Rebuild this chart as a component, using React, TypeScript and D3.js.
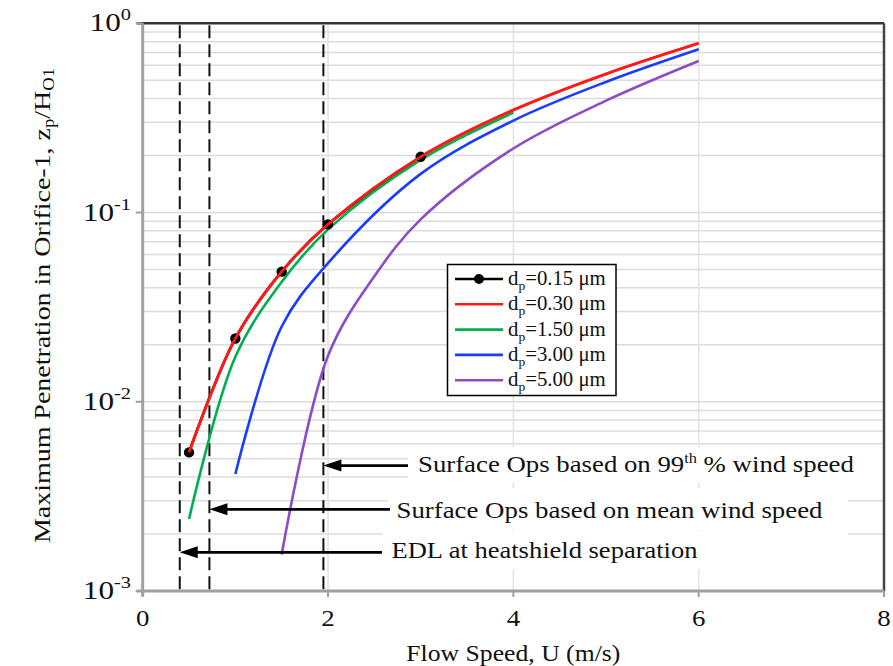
import React from "react";
import * as d3 from "d3";

const W = 893, H = 666;
const L = 142.7, R = 884, T = 23.3, B = 591;

const xTicks = [0, 2, 4, 6, 8];
const yDecades = [-3, -2, -1, 0];

const seriesNames = ["0.15", "0.30", "1.50", "3.00", "5.00"];
const seriesColors = ["#000000", "#ff1a1a", "#00b050", "#1a3cff", "#8e4cc4"];

const x015 = [0.5, 1, 1.5, 2, 3];
const y015 = [0.0054, 0.0216, 0.0487, 0.0866, 0.197];
const x030 = [0.5, 1, 1.5, 2, 3, 4, 5, 6];
const y030 = [0.0054, 0.0216, 0.0487, 0.0866, 0.197, 0.348, 0.54, 0.784];
const x150 = [0.5, 1, 1.5, 2, 3, 4];
const y150 = [0.0024, 0.0173, 0.043, 0.0815, 0.19, 0.337];
const x300 = [1, 1.5, 2, 3, 4, 5, 6];
const y300 = [0.00415, 0.025, 0.054, 0.16, 0.306, 0.49, 0.729];
const x500 = [1.5, 2, 2.5, 3, 4, 5, 6];
const y500 = [0.00156, 0.0175, 0.046, 0.092, 0.218, 0.39, 0.632];

const dashedX = [0.4, 0.72, 1.95];
const arrowLabels = [
  "EDL at heatshield separation",
  "Surface Ops based on mean wind speed",
  "Surface Ops based on 99",
];

function SText({ x, y, sx, children, ...rest }: any) {
  return (
    <g transform={`translate(${x},${y}) scale(${sx},1)`}>
      <text x={0} y={0} {...rest}>
        {children}
      </text>
    </g>
  );
}

export default function App() {
  const x = d3.scaleLinear().domain([0, 8]).range([L, R]);
  const y = d3.scaleLog().domain([1e-3, 1]).range([B, T]);
  const line = d3
    .line<[number, number]>()
    .x((d) => x(d[0]))
    .y((d) => y(d[1]))
    .curve(d3.curveCatmullRom.alpha(0.5));

  const series = [
    [x015, y015],
    [x030, y030],
    [x150, y150],
    [x300, y300],
    [x500, y500],
  ].map(([xs, ys]) => xs.map((v, i) => [v, ys[i]] as [number, number]));

  const minor: number[] = [];
  for (let d = -3; d < 0; d++) for (let k = 1; k <= 9; k++) minor.push(k * Math.pow(10, d));
  minor.push(1);

  const font = "'Liberation Serif', 'Times New Roman', serif";

  const arrows = [
    { tip: dashedX[0], yv: 0.0016, tail: 382 },
    { tip: dashedX[1], yv: 0.0027, tail: 390 },
    { tip: dashedX[2], yv: 0.0046, tail: 408 },
  ];

  return (
    <svg
      width={W}
      height={H}
      style={{ position: "absolute", left: 0, top: 0, background: "#fff" }}
      fontFamily={font}
    >
      <rect x={0} y={0} width={W} height={H} fill="#fff" />
      {/* grid */}
      {minor.map((v, i) => (
        <line key={"h" + i} x1={L} x2={R} y1={y(v)} y2={y(v)} stroke="#dcdcdc" strokeWidth={1.5} />
      ))}
      {xTicks.slice(1, -1).map((t) => (
        <line key={"v" + t} x1={x(t)} x2={x(t)} y1={T} y2={B} stroke="#e2e2e2" strokeWidth={1.5} />
      ))}

      {/* text boxes */}
      <rect x={408} y={447} width={476} height={36} fill="#fff" />
      <rect x={388} y={488} width={460} height={42} fill="#fff" />
      <rect x={383} y={531} width={465} height={38} fill="#fff" />

      {/* frame */}
      <line x1={L - 6} x2={R} y1={T} y2={T} stroke="#333" strokeWidth={2.5} />
      <line x1={R} x2={R} y1={T} y2={B} stroke="#444" strokeWidth={2.5} />

      {/* dashed lines */}
      {dashedX.map((d) => (
        <line key={"d" + d} x1={x(d)} x2={x(d)} y1={T + 2} y2={B} stroke="#111" strokeWidth={2} strokeDasharray="13,6" />
      ))}

      {/* series */}
      {series.map((s, i) => (
        <path key={"s" + i} d={line(s) || ""} fill="none" stroke={seriesColors[i]} strokeWidth={2.6} />
      ))}
      {series[0].map((p, i) => (
        <circle key={"m" + i} cx={x(p[0])} cy={y(p[1])} r={5.2} fill="#000" />
      ))}
      <path d={line(series[1]) || ""} fill="none" stroke={seriesColors[1]} strokeWidth={2.6} />

      {/* axes */}
      <line x1={L} x2={L} y1={T} y2={B + 5} stroke="#a0a0a0" strokeWidth={3} />
      <line x1={L - 6} x2={R} y1={B} y2={B} stroke="#a0a0a0" strokeWidth={3} />
      {yDecades.map((d) => (
        <line key={"yt" + d} x1={L - 7} x2={L} y1={y(Math.pow(10, d))} y2={y(Math.pow(10, d))} stroke="#a0a0a0" strokeWidth={2} />
      ))}
      {xTicks.map((t) => (
        <line key={"xt" + t} x1={x(t)} x2={x(t)} y1={B} y2={B + 6} stroke="#a0a0a0" strokeWidth={2} />
      ))}

      {/* tick labels */}
      {yDecades.map((d) => (
        <SText key={"yl" + d} x={131} y={y(Math.pow(10, d)) + 8} sx={1.2} textAnchor="end" fontSize={26} fill="#111">
          10<tspan fontSize={17} dy={-11}>{d === 0 ? "0" : "-" + Math.abs(d)}</tspan>
        </SText>
      ))}
      {xTicks.map((t) => (
        <SText key={"xl" + t} x={x(t)} y={626} sx={1.12} textAnchor="middle" fontSize={24} fill="#111">
          {t}
        </SText>
      ))}

      {/* axis titles */}
      <text x={x(4)} y={661} textAnchor="middle" fontSize={23} fill="#111" textLength={214} lengthAdjust="spacingAndGlyphs">
        Flow Speed, U (m/s)
      </text>
      <text
        transform={`translate(50, 305.5) rotate(-90)`}
        textAnchor="middle"
        fontSize={24}
        fill="#111"
        textLength={475}
        lengthAdjust="spacingAndGlyphs"
      >
        Maximum  Penetration in Orifice-1, z<tspan fontSize={16} dy={4}>p</tspan>
        <tspan dy={-4}>/H</tspan>
        <tspan fontSize={16} dy={4}>O1</tspan>
      </text>

      {/* arrows */}
      {arrows.map((a, i) => {
        const tipX = x(a.tip);
        const yy = y(a.yv);
        return (
          <g key={"a" + i}>
            <line x1={tipX + 14} x2={a.tail} y1={yy} y2={yy} stroke="#000" strokeWidth={2.8} />
            <path d={`M${tipX},${yy} L${tipX + 18},${yy - 6} L${tipX + 18},${yy + 6} Z`} fill="#000" />
          </g>
        );
      })}
      <text x={391.5} y={558} fontSize={23} fill="#111" textLength={306} lengthAdjust="spacingAndGlyphs">
        {arrowLabels[0]}
      </text>
      <text x={396.5} y={518} fontSize={23} fill="#111" textLength={426} lengthAdjust="spacingAndGlyphs">
        {arrowLabels[1]}
      </text>
      <SText x={418} y={472} sx={1.165} fontSize={23} fill="#111">
        {arrowLabels[2]}
        <tspan fontSize={14} dy={-9}>th</tspan>
        <tspan dy={9}> % wind speed</tspan>
      </SText>

      {/* legend */}
      <rect x={447.5} y={264.5} width={168.5} height={131} fill="#fff" stroke="#000" strokeWidth={1.5} />
      {seriesNames.map((n, i) => {
        const ly = 279 + i * 25.3;
        return (
          <g key={"lg" + i}>
            <line x1={455} x2={503} y1={ly} y2={ly} stroke={seriesColors[i]} strokeWidth={2.6} />
            {i === 0 && <circle cx={479} cy={ly} r={5} fill="#000" />}
            <SText x={508} y={ly + 6} sx={1.04} fontSize={20} fill="#111">
              d<tspan fontSize={13} dy={5}>p</tspan>
              <tspan dy={-5}>={n} μm</tspan>
            </SText>
          </g>
        );
      })}
    </svg>
  );
}
